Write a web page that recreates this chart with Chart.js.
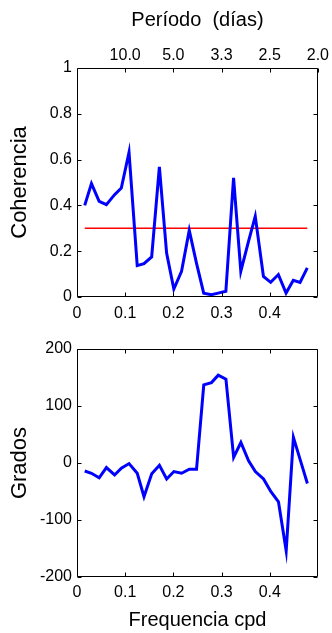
<!DOCTYPE html>
<html>
<head>
<meta charset="utf-8">
<script src="https://cdn.jsdelivr.net/npm/chart.js@4.4.1/dist/chart.umd.min.js"></script>
<style>
  html, body { margin: 0; padding: 0; background: #fff; }
  #wrap { position: relative; width: 332px; height: 633px; }
  canvas { position: absolute; left: 0; }
  #coh { top: 0; }
  #pha { top: 330px; }
</style>
</head>
<body>
<div id="wrap">
  <canvas id="coh" width="332" height="330"></canvas>
  <canvas id="pha" width="332" height="303"></canvas>
</div>
<script>
// frequencies (cpd) shared by both panels
const freqs = [0.016, 0.030, 0.046, 0.061, 0.078, 0.092, 0.108, 0.125, 0.139, 0.155, 0.171,
  0.186, 0.201, 0.217, 0.233, 0.248, 0.263, 0.279, 0.293, 0.309, 0.325, 0.340, 0.356,
  0.370, 0.387, 0.402, 0.418, 0.434, 0.449, 0.463, 0.478];

const coherence = [0.40, 0.495, 0.418, 0.403, 0.447, 0.476, 0.632, 0.137, 0.146, 0.175, 0.568,
  0.192, 0.035, 0.112, 0.291, 0.148, 0.017, 0.010, 0.017, 0.025, 0.52, 0.112, 0.243,
  0.352, 0.09, 0.064, 0.098, 0.017, 0.073, 0.064, 0.127];

const phase = [-14, -18, -26, -8, -21, -9, -1, -18, -59, -19, -4, -28, -15, -18, -11, -11,
  137, 141, 154, 147, 10, 36, 4, -15, -28, -50, -68, -154, 45, 6, -36];

const significance = 0.3;

const freqTicks = [0, 0.1, 0.2, 0.3, 0.4];
const freqTickLabels = ['0', '0.1', '0.2', '0.3', '0.4'];
const periodTicks = [0.1, 0.2, 0.3, 0.4, 0.5];
const periodTickLabels = ['10.0', '5.0', '3.3', '2.5', '2.0'];
const cohTicks = [0, 0.2, 0.4, 0.6, 0.8, 1];
const cohTickLabels = ['0', '0.2', '0.4', '0.6', '0.8', '1'];
const phaseTicks = [-200, -100, 0, 100, 200];
const phaseTickLabels = ['-200', '-100', '0', '100', '200'];

const FONT = "'Liberation Sans', Arial, sans-serif";

const fixTicks = (values, labels, pad) => ({
  afterBuildTicks: scale => { scale.ticks = values.map(v => ({ value: v })); },
  grid: { display: false, drawTicks: false },
  border: { display: false },
  ticks: {
    callback: (v, i) => labels[i],
    font: { family: FONT, size: 16 },
    color: '#000',
    padding: pad,
    maxRotation: 0,
    autoSkip: false
  }
});

// MATLAB style box with ticks pointing inwards
const boxTicks = {
  id: 'boxTicks',
  afterDatasetsDraw(chart) {
    const { ctx, chartArea: a, scales } = chart;
    const L = Math.round(a.left) + 0.5, R = Math.round(a.right) - 0.5;
    const T = Math.round(a.top) + 0.5, B = Math.round(a.bottom) - 0.5;
    const len = 4;
    ctx.save();
    ctx.strokeStyle = '#000';
    ctx.lineWidth = 1;
    ctx.beginPath();
    ctx.rect(L, T, R - L, B - T);
    for (const t of scales.x.ticks) {
      const px = Math.round(scales.x.getPixelForValue(t.value)) + 0.5;
      ctx.moveTo(px, B); ctx.lineTo(px, B - len);
      if (!scales.x2) { ctx.moveTo(px, T); ctx.lineTo(px, T + len); }
    }
    if (scales.x2) {
      for (const t of scales.x2.ticks) {
        const px = Math.round(scales.x2.getPixelForValue(t.value)) + 0.5;
        ctx.moveTo(px, T); ctx.lineTo(px, T + len);
      }
    }
    for (const t of scales.y.ticks) {
      const py = Math.round(scales.y.getPixelForValue(t.value)) + 0.5;
      ctx.moveTo(L, py); ctx.lineTo(L + len, py);
      ctx.moveTo(R, py); ctx.lineTo(R - len, py);
    }
    ctx.stroke();
    ctx.restore();
  }
};

const lineStyle = {
  borderColor: '#0000ff',
  borderWidth: 3,
  pointRadius: 0,
  tension: 0,
  fill: false
};

const baseOptions = {
  responsive: false,
  animation: false,
  devicePixelRatio: 1,
  plugins: { legend: { display: false }, tooltip: { enabled: false } }
};

new Chart(document.getElementById('coh'), {
  type: 'line',
  data: {
    datasets: [
      { ...lineStyle, data: freqs.map((f, i) => ({ x: f, y: coherence[i] })) },
      {
        borderColor: '#ff0000', borderWidth: 1.5, pointRadius: 0,
        data: [{ x: freqs[0], y: significance }, { x: freqs[freqs.length - 1], y: significance }]
      }
    ]
  },
  options: {
    ...baseOptions,
    layout: { padding: { left: 0, right: 14, top: 0, bottom: 0 } },
    scales: {
      x: {
        type: 'linear', min: 0, max: 0.5,
        ...fixTicks(freqTicks, freqTickLabels, 7),
        afterFit: s => { s.height = 33; }
      },
      x2: {
        type: 'linear', axis: 'x', position: 'top', min: 0, max: 0.5,
        ...fixTicks(periodTicks, periodTickLabels, 3),
        title: {
          display: true, text: 'Período  (días)', color: '#000',
          font: { family: FONT, size: 20, lineHeight: 1.2 },
          padding: { top: 8, bottom: 0 }
        },
        afterFit: s => { s.height = 68; }
      },
      y: {
        min: 0, max: 1,
        ...fixTicks(cohTicks, cohTickLabels, 5),
        title: {
          display: true, text: 'Coherencia', color: '#000',
          font: { family: FONT, size: 22, lineHeight: 1.2 },
          padding: { top: 7, bottom: 0 }
        },
        afterFit: s => { s.width = 77; }
      }
    }
  },
  plugins: [boxTicks]
});

new Chart(document.getElementById('pha'), {
  type: 'line',
  data: {
    datasets: [
      { ...lineStyle, data: freqs.map((f, i) => ({ x: f, y: phase[i] })) }
    ]
  },
  options: {
    ...baseOptions,
    layout: { padding: { left: 0, right: 14, top: 19, bottom: 0 } },
    scales: {
      x: {
        type: 'linear', min: 0, max: 0.5,
        ...fixTicks(freqTicks, freqTickLabels, 6),
        title: {
          display: true, text: 'Frequencia cpd', color: '#000',
          font: { family: FONT, size: 20, lineHeight: 1.2 },
          padding: { top: 0, bottom: 1 }
        },
        afterFit: s => { s.height = 56; }
      },
      y: {
        min: -200, max: 200,
        ...fixTicks(phaseTicks, phaseTickLabels, 5),
        title: {
          display: true, text: 'Grados', color: '#000',
          font: { family: FONT, size: 22, lineHeight: 1.2 },
          padding: { top: 7, bottom: 0 }
        },
        afterFit: s => { s.width = 77; }
      }
    }
  },
  plugins: [boxTicks]
});
</script>
</body>
</html>
